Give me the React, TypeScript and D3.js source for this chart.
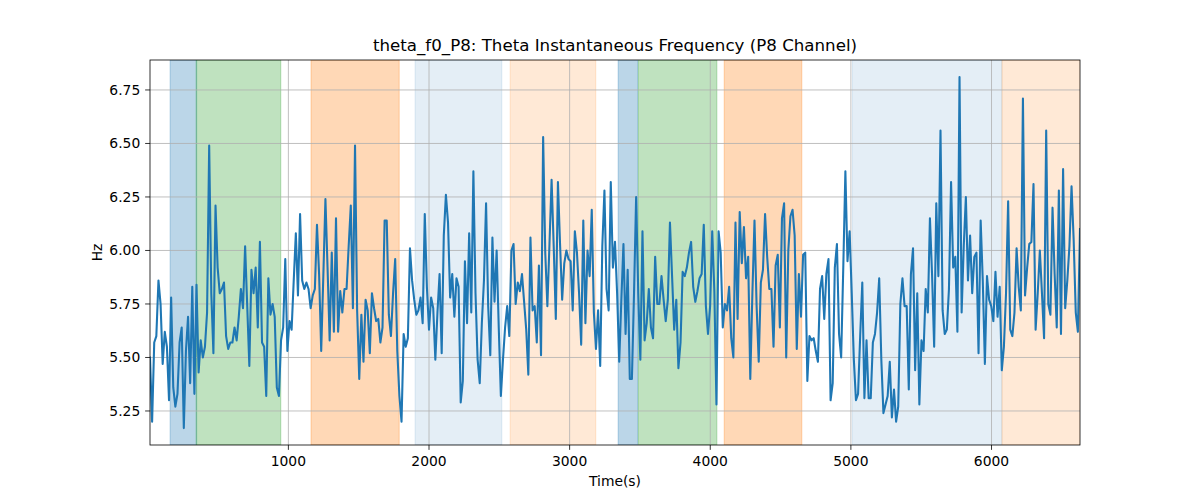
import React from "react";
import * as d3 from "d3";

// ---- data ----
const T0 = 16; // first sample time (s)
const STEP = 15.03; // sampling step (s)

const thetaHz: number[] = [
  // 0 .. ~840 s
  5.50, 5.20, 5.57, 5.60, 5.86, 5.75, 5.47, 5.62, 5.55, 5.30,
  5.78, 5.36, 5.27, 5.33, 5.57, 5.64, 5.17, 5.53, 5.69, 5.38,
  5.83, 5.33, 5.84, 5.43, 5.58, 5.50, 5.55, 5.71, 6.49, 5.80,
  5.52, 6.21, 5.92, 5.80, 5.82, 5.85, 5.60, 5.54, 5.57, 5.57,
  5.64, 5.58, 5.69, 5.82, 5.73, 6.02, 5.74, 5.46, 5.91, 5.80,
  5.92, 5.64, 6.04, 5.57, 5.55, 5.32,
  // ~850 .. 1660
  5.87, 5.70, 5.75, 5.69, 5.36, 5.32, 5.58, 5.64, 5.96, 5.53,
  5.67, 5.63, 5.86, 6.08, 5.79, 6.17, 5.86, 5.82, 5.85, 5.82,
  5.73, 5.79, 5.82, 6.12, 5.89, 5.53, 5.88, 6.24, 5.92, 5.58,
  5.99, 5.62, 6.15, 5.62, 5.81, 5.71, 5.82, 5.82, 6.02, 6.21,
  5.73, 6.49, 5.72, 5.40, 5.70, 5.48, 5.77, 5.72, 5.52, 5.80,
  5.73, 5.67, 5.68, 5.57, 5.64,
  // ~1680 .. 2500
  6.14, 6.14, 5.70, 5.60, 5.80, 5.96, 5.53, 5.32, 5.20, 5.61,
  5.55, 5.59, 6.01, 5.86, 5.77, 5.70, 5.72, 5.78, 5.66, 6.17,
  5.83, 5.63, 5.78, 5.73, 5.49, 5.71, 5.89, 5.52, 6.07, 6.26,
  6.13, 5.78, 5.89, 5.69, 5.87, 5.83, 5.29, 5.39, 5.95, 5.66,
  6.08, 5.71, 6.37, 5.80, 5.49, 5.38, 5.66, 5.86, 6.22, 5.74,
  5.51, 6.06, 5.76, 6.00, 5.64, 5.32,
  // ~2520 .. 3340
  5.49, 5.64, 5.74, 5.60, 6.00, 6.03, 5.75, 5.85, 5.81, 5.89,
  5.76, 5.63, 5.42, 6.06, 5.72, 5.74, 5.57, 5.93, 5.51, 6.53,
  5.99, 5.74, 6.03, 6.33, 6.02, 5.68, 6.32, 6.03, 5.77, 5.94,
  6.00, 5.96, 5.95, 5.72, 6.09, 5.99, 5.80, 5.56, 6.14, 5.66,
  6.00, 5.88, 6.19, 5.71, 5.54, 5.72, 5.46, 6.02, 6.28, 5.82,
  5.72, 6.32, 5.92, 6.04, 5.80,
  // ~3360 .. 4180
  5.48, 5.77, 6.03, 5.61, 5.91, 5.40, 5.40, 5.80, 6.25, 5.80,
  5.49, 6.09, 5.58, 5.66, 5.82, 5.64, 5.59, 5.97, 5.75, 5.75,
  5.88, 5.77, 5.67, 5.77, 6.13, 5.88, 5.63, 5.77, 5.45, 5.57,
  5.90, 5.88, 5.92, 5.99, 6.04, 5.83, 5.76, 5.81, 5.87, 5.89,
  6.12, 5.74, 5.61, 5.74, 6.09, 5.81, 5.28, 6.09, 5.99, 5.64,
  5.75, 5.72, 5.83, 5.59, 5.50, 6.13,
  // ~4200 .. 5010
  5.68, 6.18, 5.94, 6.11, 5.87, 5.97, 5.40, 5.80, 6.14, 5.74,
  5.48, 5.85, 5.91, 6.17, 5.97, 5.82, 5.82, 5.55, 5.93, 5.98,
  5.64, 6.15, 6.22, 5.50, 6.00, 6.16, 6.19, 6.07, 5.54, 5.89,
  5.69, 5.98, 5.99, 5.39, 5.60, 5.58, 5.59, 5.53, 5.48, 5.82,
  5.88, 5.68, 5.89, 5.96, 5.30, 5.38, 5.92, 6.03, 5.61, 5.50,
  5.92, 6.37, 5.95, 6.09, 5.80,
  // ~5030 .. 5860
  5.49, 5.30, 5.33, 5.60, 5.85, 5.31, 5.58, 5.31, 5.31, 5.57,
  5.61, 5.71, 5.87, 5.49, 5.24, 5.28, 5.32, 5.48, 5.22, 5.35,
  5.20, 5.27, 5.75, 5.87, 5.74, 5.74, 5.35, 5.89, 6.01, 5.44,
  5.80, 5.28, 5.58, 5.53, 5.82, 5.71, 6.15, 5.89, 5.55, 6.22,
  5.88, 6.56, 5.72, 5.61, 5.63, 5.82, 6.32, 5.92, 5.97, 5.62,
  6.81, 5.71, 6.02, 6.25, 5.86, 6.07,
  // ~5870 .. end
  5.80, 5.97, 5.99, 5.52, 6.14, 5.86, 5.47, 5.88, 5.77, 5.74,
  5.67, 5.90, 5.69, 5.83, 5.44, 5.55, 5.80, 6.23, 5.63, 5.60,
  5.71, 6.01, 5.83, 5.72, 6.71, 5.79, 5.92, 6.03, 6.04, 6.31,
  5.63, 5.80, 6.00, 5.80, 5.59, 6.56, 5.75, 5.70, 6.20, 5.89,
  5.64, 6.28, 5.61, 6.38, 5.73, 5.86, 6.02, 6.30, 6.05, 5.71,
  5.62, 6.10,
];

const spanStart = [159, 344, 1161, 1901, 2577, 3345, 3489, 4099, 5011, 6074];
const spanEnd = [348, 946, 1788, 2518, 3186, 3484, 4047, 4651, 6074, 6631];
const spanKind = ["blue", "green", "orange", "paleBlue", "paleOrange", "blue", "green", "orange", "paleBlue", "paleOrange"];

const xTicks = [1000, 2000, 3000, 4000, 5000, 6000];
const yTicks = [5.25, 5.5, 5.75, 6.0, 6.25, 6.5, 6.75];

const TITLE = "theta_f0_P8: Theta Instantaneous Frequency (P8 Channel)";
const X_LABEL = "Time(s)";
const Y_LABEL = "Hz";

// ---- styles ----
const kindStyle: Record<string, { color: string; opacity: number }> = {
  blue: { color: "#1f77b4", opacity: 0.3 },
  green: { color: "#2ca02c", opacity: 0.3 },
  orange: { color: "#ff7f0e", opacity: 0.3 },
  paleBlue: { color: "#1f77b4", opacity: 0.12 },
  paleOrange: { color: "#ff7f0e", opacity: 0.17 },
};

const W = 1200;
const H = 500;
const M = { left: 150, right: 1080, top: 60, bottom: 445 };
const FONT = "'DejaVu Sans', sans-serif";

export default function App() {
  const times = thetaHz.map((_, i) => T0 + i * STEP);
  const x = d3
    .scaleLinear()
    .domain([times[0], times[times.length - 1]])
    .range([M.left, M.right]);
  const y = d3.scaleLinear().domain([5.091, 6.89]).range([M.bottom, M.top]);

  const line = d3
    .line<number>()
    .x((_, i) => x(times[i]))
    .y((d) => y(d));

  const tickLen = 4.86;
  const tickFs = 13.89;

  return (
    <svg
      width={W}
      height={H}
      viewBox={`0 0 ${W} ${H}`}
      style={{ position: "absolute", left: 0, top: 0, background: "#fff" }}
      fontFamily={FONT}
    >
      <defs>
        <clipPath id="plotClip">
          <rect x={M.left} y={M.top} width={M.right - M.left} height={M.bottom - M.top} />
        </clipPath>
      </defs>
      <rect x={0} y={0} width={W} height={H} fill="#fff" />

      <g clipPath="url(#plotClip)">
        {spanStart.map((s, i) => {
          const st = kindStyle[spanKind[i]];
          const x0 = x(s);
          const x1 = x(spanEnd[i]);
          return (
            <rect
              key={i}
              x={x0}
              y={M.top}
              width={x1 - x0}
              height={M.bottom - M.top}
              fill={st.color}
              fillOpacity={st.opacity}
              stroke={st.color}
              strokeOpacity={st.opacity}
              strokeWidth={1}
            />
          );
        })}

        {xTicks.map((t) => (
          <line key={"gx" + t} x1={x(t)} x2={x(t)} y1={M.top} y2={M.bottom} stroke="#b0b0b0" strokeWidth={0.8} />
        ))}
        {yTicks.map((t) => (
          <line key={"gy" + t} x1={M.left} x2={M.right} y1={y(t)} y2={y(t)} stroke="#b0b0b0" strokeWidth={0.8} />
        ))}

        <path
          d={line(thetaHz) || ""}
          fill="none"
          stroke="#1f77b4"
          strokeWidth={2.08}
          strokeLinejoin="round"
          strokeLinecap="square"
        />
      </g>

      {/* spines */}
      <rect
        x={M.left}
        y={M.top}
        width={M.right - M.left}
        height={M.bottom - M.top}
        fill="none"
        stroke="#000"
        strokeWidth={0.8}
      />

      {/* x ticks */}
      {xTicks.map((t) => (
        <g key={"xt" + t}>
          <line x1={x(t)} x2={x(t)} y1={M.bottom} y2={M.bottom + tickLen} stroke="#000" strokeWidth={0.8} />
          <text x={x(t)} y={M.bottom + 20.5} fontSize={tickFs} textAnchor="middle" fill="#000">
            {t}
          </text>
        </g>
      ))}

      {/* y ticks */}
      {yTicks.map((t) => (
        <g key={"yt" + t}>
          <line x1={M.left - tickLen} x2={M.left} y1={y(t)} y2={y(t)} stroke="#000" strokeWidth={0.8} />
          <text
            x={M.left - tickLen - 4.86}
            y={y(t)}
            fontSize={tickFs}
            textAnchor="end"
            dominantBaseline="central"
            fill="#000"
          >
            {t.toFixed(2)}
          </text>
        </g>
      ))}

      <text x={(M.left + M.right) / 2} y={486} fontSize={tickFs} textAnchor="middle" fill="#000">
        {X_LABEL}
      </text>
      <text
        transform={`translate(97, ${(M.top + M.bottom) / 2}) rotate(-90)`}
        fontSize={tickFs}
        textAnchor="middle"
        dominantBaseline="central"
        fill="#000"
      >
        {Y_LABEL}
      </text>

      <text x={(M.left + M.right) / 2} y={51} fontSize={16.67} textAnchor="middle" fill="#000">
        {TITLE}
      </text>
    </svg>
  );
}
